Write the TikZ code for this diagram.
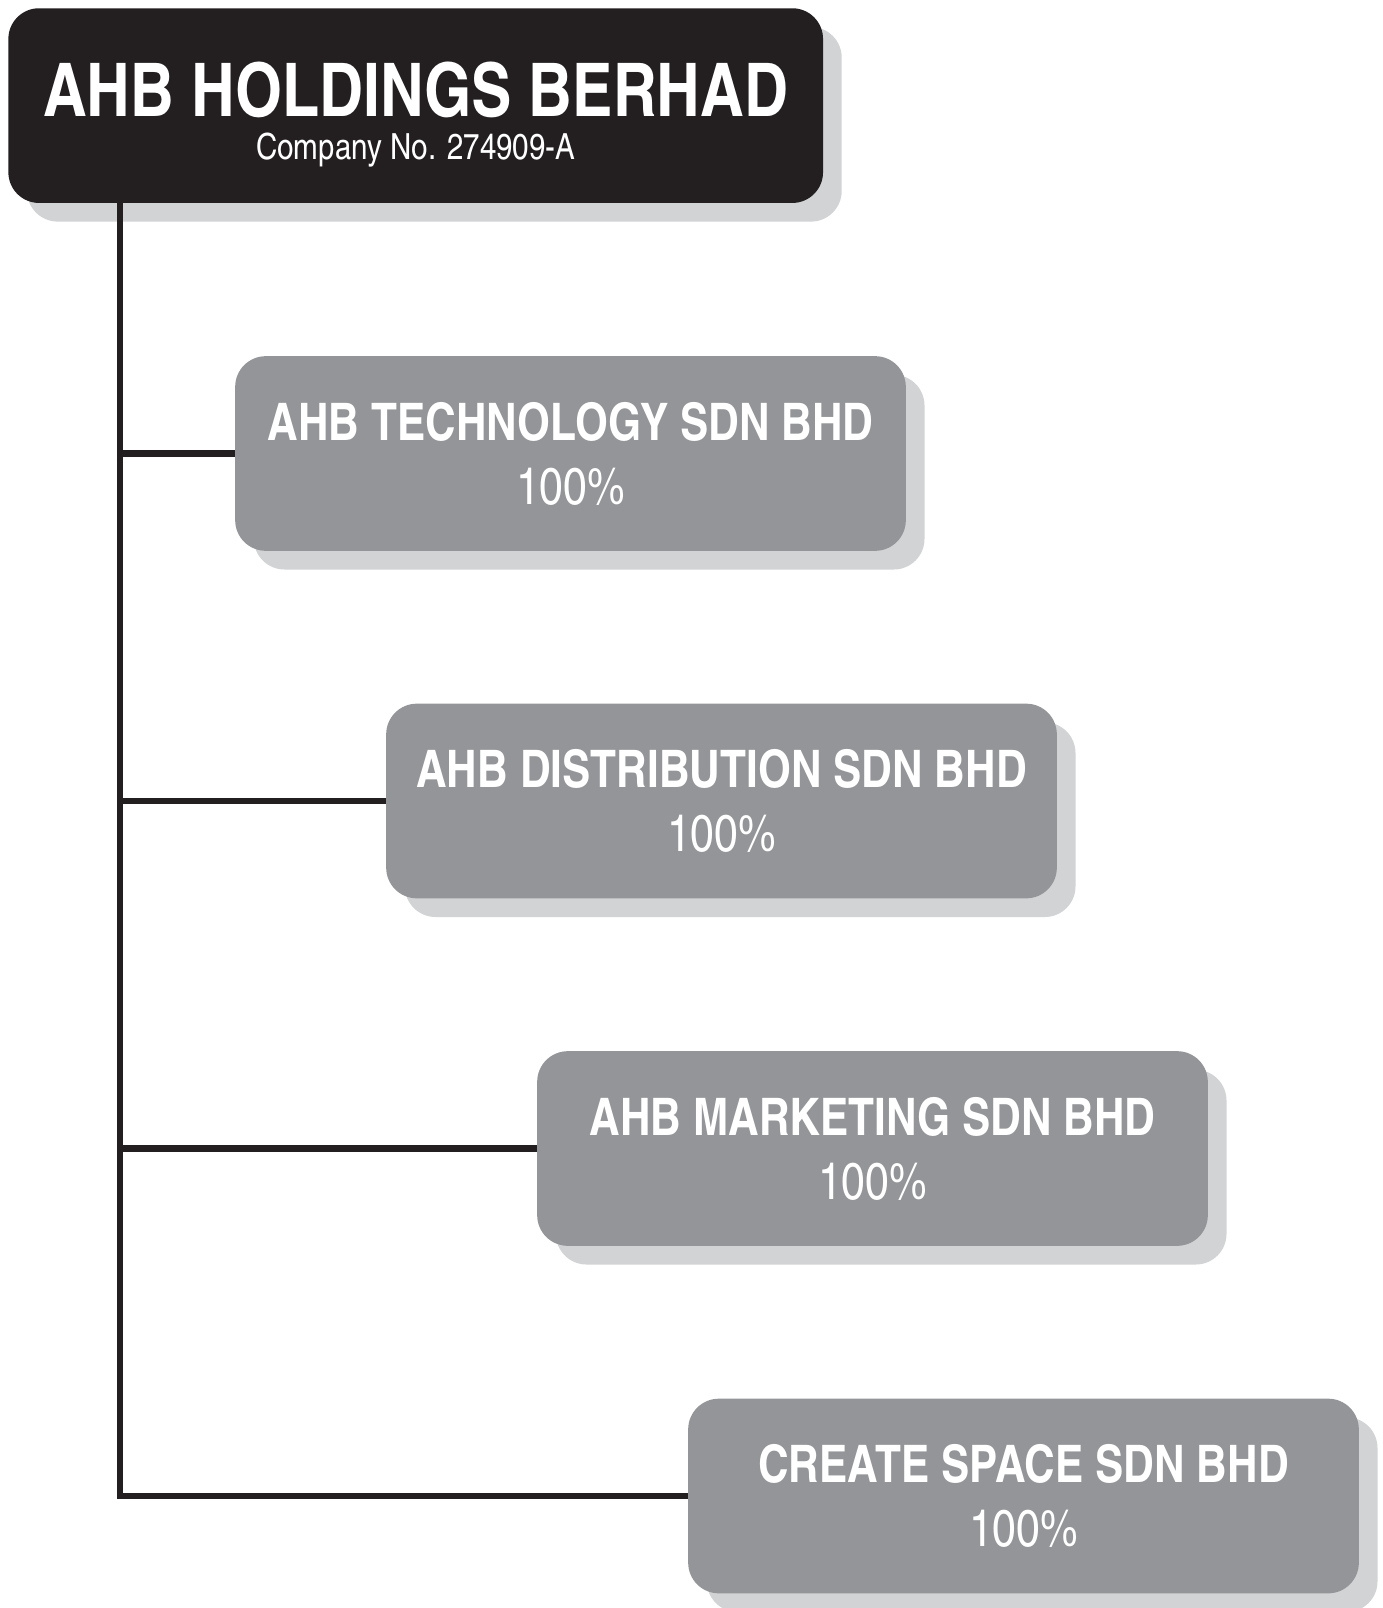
\documentclass[tikz,border=0pt]{standalone}
\usepackage{fontspec}
\setmainfont{TeX Gyre Heros Cn}
\usetikzlibrary{shadows}

\definecolor{holdblack}{RGB}{35,31,32}
\definecolor{subgray}{RGB}{147,149,152}
\definecolor{shadegray}{RGB}{209,211,212}

\tikzset{every picture/.style={line width=0.75pt}}
\tikzset{
  holdbox/.style={fill=holdblack, text=white, rounded corners=23pt, inner sep=0pt,
    minimum width=611pt, minimum height=146pt, align=center,
    font=\fontsize{27}{32.6}\selectfont,
    drop shadow={shadow xshift=14pt, shadow yshift=-14pt, fill=shadegray, opacity=1}},
  subbox/.style={fill=subgray, text=white, rounded corners=23pt, inner sep=0pt,
    minimum width=503pt, minimum height=146pt, align=center,
    font=\fontsize{38.8}{48}\selectfont,
    drop shadow={shadow xshift=14pt, shadow yshift=-14pt, fill=shadegray, opacity=1}},
  link/.style={draw=holdblack, line width=5.2pt}
}

\begin{document}
\begin{tikzpicture}[x=0.75pt,y=0.75pt,yscale=-1,xscale=1]
\useasboundingbox (0,0) rectangle (1383,1608);

%holding company
\node[holdbox] (ahb) at (415.7,105.6) {\rule{0pt}{54pt}{\fontsize{55.5}{55.5}\selectfont\bfseries AHB HOLDINGS BERHAD}\\Company No. 274909-A};

%subsidiaries
\node[subbox] (tech) at (570.5,453.5) {\textbf{AHB TECHNOLOGY SDN BHD}\\100\%};
\node[subbox] (dist) at (721.5,801) {\textbf{AHB DISTRIBUTION SDN BHD}\\100\%};
\node[subbox] (mktg) at (872.5,1148.5) {\textbf{AHB MARKETING SDN BHD}\\100\%};
\node[subbox] (space) at (1023.5,1496) {\textbf{CREATE SPACE SDN BHD}\\100\%};

%trunk line and branches
\coordinate (trunk) at (120,203);
\draw[link] (trunk) |- (space.west);
\foreach \n in {tech,dist,mktg}
  \draw[link] (trunk |- \n.west) -- (\n.west);

\end{tikzpicture}
\end{document}
